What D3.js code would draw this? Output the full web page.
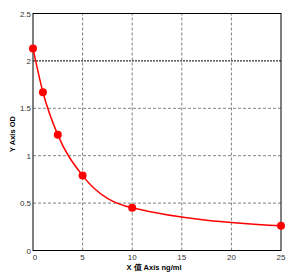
<!DOCTYPE html>
<html>
<head>
<meta charset="utf-8">
<script src="https://cdn.jsdelivr.net/npm/d3@7"></script>
<style>
  body { margin: 0; background: #fff; }
  text { font-family: "Liberation Sans", Arial, sans-serif; }
</style>
</head>
<body>
<svg id="chart" width="306" height="278"></svg>
<script>
// concentration (ng/ml) and OD readings
const conc = [0, 1, 2.5, 5, 10, 25];
const od = [2.13, 1.67, 1.22, 0.79, 0.45, 0.26];
const xTicks = [0, 5, 10, 15, 20, 25];
const yTicks = [0, 0.5, 1, 1.5, 2, 2.5];

const width = 306, height = 278;
const margin = { top: 13.5, right: 25, bottom: 27.5, left: 33 };

let svg = d3.select("#chart");

let x = d3.scaleLinear().domain([0, 25]).range([margin.left, width - margin.right]);
let y = d3.scaleLinear().domain([0, 2.5]).range([height - margin.bottom, margin.top]);

// grid lines
svg.append("g").selectAll("line")
    .data(xTicks.slice(1, -1)).enter().append("line")
    .attr("x1", d => x(d)).attr("x2", d => x(d))
    .attr("y1", y(0)).attr("y2", y(2.5))
    .attr("stroke", "#808080").attr("stroke-dasharray", "3,2");

svg.append("g").selectAll("line")
    .data(yTicks.slice(1, -1)).enter().append("line")
    .attr("x1", x(0)).attr("x2", x(25))
    .attr("y1", d => y(d)).attr("y2", d => y(d))
    .attr("stroke", d => d === 2 ? "#000" : "#808080")
    .attr("stroke-dasharray", d => d === 2 ? "2,1" : "3,2");

// frame
svg.append("rect")
    .attr("x", x(0)).attr("y", y(2.5))
    .attr("width", x(25) - x(0)).attr("height", y(0) - y(2.5))
    .attr("fill", "none").attr("stroke", "#000").attr("stroke-width", 1);

// tick labels
svg.append("g").selectAll("text")
    .data(xTicks).enter().append("text")
    .attr("x", d => x(d) + (d === 0 ? 2 : 0)).attr("y", y(0) + 9)
    .attr("text-anchor", "middle")
    .attr("font-size", 8).attr("fill", "#333")
    .text(d => d);

svg.append("g").selectAll("text")
    .data(yTicks).enter().append("text")
    .attr("x", x(0) - 2).attr("y", d => y(d) + 3)
    .attr("text-anchor", "end")
    .attr("font-size", 8).attr("fill", "#333")
    .text(d => d);

// axis titles
svg.append("text")
    .attr("x", 154).attr("y", height - 8)
    .attr("text-anchor", "middle")
    .attr("font-size", 7.5).attr("font-weight", "bold")
    .text("X 值 Axis ng/ml");

svg.append("text")
    .attr("transform", "translate(15," + (y(1.25) + 2) + ") rotate(-90)")
    .attr("text-anchor", "middle")
    .attr("font-size", 7.5).attr("font-weight", "bold")
    .text("Y Axis OD");

// curve
let pts = conc.map((c, i) => [c, od[i]]);
let line = d3.line()
    .x(d => x(d[0])).y(d => y(d[1]))
    .curve(d3.curveMonotoneX);

svg.append("path")
    .attr("d", line(pts))
    .attr("fill", "none").attr("stroke", "#ff0000").attr("stroke-width", 1.5);

svg.append("g").selectAll("circle")
    .data(pts).enter().append("circle")
    .attr("cx", d => x(d[0])).attr("cy", d => y(d[1]))
    .attr("r", 4)
    .attr("fill", "#ff0000");
</script>
</body>
</html>
